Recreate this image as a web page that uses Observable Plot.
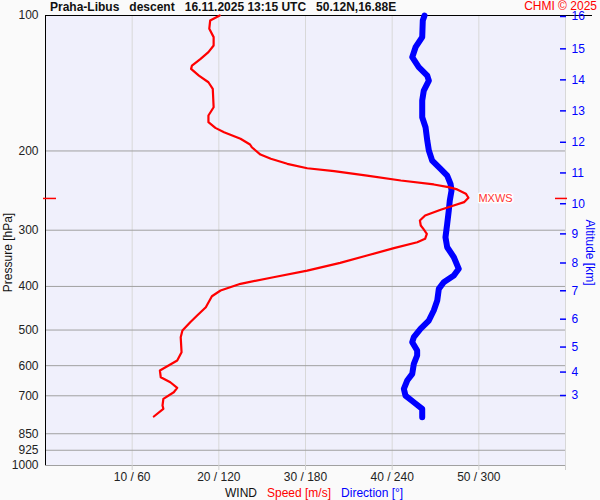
<!DOCTYPE html>
<html><head><meta charset="utf-8">
<script src="https://cdn.jsdelivr.net/npm/d3@7"></script>
<script src="https://cdn.jsdelivr.net/npm/@observablehq/plot@0.6"></script>
<style>
body{margin:0;background:#fafafa;font-family:"Liberation Sans",Arial,sans-serif;}
#wrap{position:relative;width:600px;height:500px;overflow:hidden}
#chart{position:absolute;left:0;top:0}
#title{position:absolute;left:50px;top:0;font-weight:bold;font-size:12px;line-height:14px;white-space:pre;color:#111}
#credit{position:absolute;right:3px;top:0;font-size:12px;line-height:12px;color:#f00}
#caption{position:absolute;left:225px;top:486px;font-size:12px;line-height:14px;white-space:pre;color:#111}
</style></head>
<body>
<div id="wrap">
<div id="chart"></div>
<div id="title">Praha-Libus   descent   16.11.2025 13:15 UTC   50.12N,16.88E</div>
<div id="credit">CHMI © 2025</div>
<div id="caption">WIND   <span style="color:#f00">Speed [m/s]</span>   <span style="color:#00f">Direction [°]</span></div>
</div>
<script>
// Axis ticks
const pressureTicks = [100, 200, 300, 400, 500, 600, 700, 850, 925, 1000];
const windTicks = [10, 20, 30, 40, 50, 60];
const altKm = [3, 4, 5, 6, 7, 8, 9, 10, 11, 12, 13, 14, 15, 16];
const altP = [699, 620, 545.5, 473, 409, 354.8, 305.7, 262, 223.8, 191.3, 162.9, 139, 118.6, 100.5];

// Wind speed profile [m/s] vs pressure [hPa]
const speedP = [100, 102.6, 107.0, 111.7, 116.6, 120.6, 124.8, 129.2, 131.4, 136.0, 140.7, 145.5, 159.9, 166.8, 172.6, 177.7, 181.7, 187.9, 193.5, 196.2, 203.7, 208.2, 213.6, 218.5, 221.8, 226.8, 232.6, 237.4, 240.7, 243.5, 248.9, 254.1, 259.9, 264.4, 270.2, 278.3, 285.5, 292.9, 297.9, 305.6, 313.5, 319.0, 328.9, 341.5, 354.5, 368.8, 381.6, 394.7, 408.5, 420.6, 444.9, 464.2, 480.4, 501.2, 518.6, 560.1, 584.5, 599.6, 615.1, 636.6, 653.1, 672.1, 687.5, 711.1, 735.8, 748.2, 778.3];
const speedMs = [20.1, 19.0, 18.9, 19.4, 19.4, 18.8, 17.9, 16.9, 16.8, 17.7, 18.8, 19.3, 19.4, 18.8, 18.8, 19.6, 20.6, 22.5, 23.6, 23.8, 24.8, 26.0, 27.9, 30.2, 33.3, 37.1, 41.0, 44.8, 46.5, 47.5, 48.5, 48.8, 48.3, 47.1, 45.6, 43.8, 43.2, 43.3, 43.6, 44.0, 43.8, 42.9, 40.2, 37.1, 34.0, 30.2, 26.3, 22.5, 20.2, 19.2, 18.5, 17.5, 16.7, 15.8, 15.6, 15.7, 15.2, 14.2, 13.2, 13.3, 14.4, 15.2, 14.8, 13.6, 13.5, 13.6, 12.5];

// Wind direction profile [deg] vs pressure [hPa]
const dirP = [100, 102.6, 111.7, 117.6, 123.8, 130.3, 136.0, 139.5, 146.8, 154.5, 168.3, 177.1, 189.6, 199.5, 210.1, 219.2, 226.8, 236.6, 244.8, 257.7, 271.3, 290.4, 311.0, 327.3, 344.5, 365.5, 378.3, 391.4, 405.0, 430.0, 452.5, 476.3, 497.0, 518.6, 532.1, 555.3, 569.6, 594.3, 625.7, 647.5, 675.6, 699.1, 723.5, 748.2, 781.2];
const dirDeg = [262.4, 261.2, 260.8, 256.2, 253.9, 258.4, 264.3, 265.4, 261.9, 260.8, 260.8, 263.1, 264.3, 265.4, 267.7, 273.5, 278.1, 280.4, 281.1, 279.9, 279.2, 278.1, 276.9, 278.1, 282.7, 286.1, 282.7, 275.7, 272.3, 271.2, 268.8, 265.4, 259.6, 255.0, 253.9, 257.3, 257.3, 255.0, 253.9, 250.4, 248.1, 249.2, 255.0, 260.8, 260.8];

// Maximum wind
const mxwsP = [255];
const mxwsSpeed = [48.8];
const mxwsLabel = ["MXWS"];

const altTable = altKm.map((k, i) => ({km: String(k), p: altP[i]}));
const speedTable = speedP.map((p, i) => ({p, s: speedMs[i]}));
const dirTable = dirP.map((p, i) => ({p, deg: dirDeg[i]}));
const mxTable = mxwsP.map((p, i) => ({p, s: mxwsSpeed[i], label: mxwsLabel[i]}));

const chart = Plot.plot({
  width: 600, height: 500,
  marginTop: 15, marginBottom: 35, marginLeft: 45, marginRight: 35,
  style: {background: "transparent", fontFamily: "Liberation Sans, Arial, sans-serif", fontSize: "12px", overflow: "visible"},
  x: {domain: [0, 60]},
  y: {type: "log", domain: [100, 1000], reverse: true},
  marks: [
    Plot.frame({fill: "#f0f0fc", stroke: "none"}),
    Plot.gridX(windTicks, {stroke: "#d8d8d8", strokeOpacity: 1}),
    Plot.gridY(pressureTicks, {stroke: "#a0a0a0", strokeOpacity: 1}),
    Plot.axisX(windTicks, {tickSize: 5, tickPadding: 2, stroke: "#cfcfcf", fill: "#222", label: null,
      tickFormat: d => d === 60 ? "" : `${d} / ${d * 6}`}),
    Plot.axisY(pressureTicks, {tickSize: 0, tickPadding: 7, fill: "#222", label: null, tickFormat: d => String(d)}),
    Plot.ruleX([0], {stroke: "black"}),
    Plot.ruleY([100], {stroke: "black", insetRight: -27}),
    Plot.tickY(altTable, {y: "p", stroke: "blue", strokeWidth: 1.5, insetLeft: 515, insetRight: -1}),
    Plot.text(altTable, {y: "p", text: "km", frameAnchor: "right", textAnchor: "start", dx: 6, fill: "blue", fontSize: 12}),
    Plot.text(["Pressure [hPa]"], {frameAnchor: "left", textAnchor: "middle", rotate: -90, dx: -37, dy: 12, fill: "#111", fontSize: 12}),
    Plot.text(["Altitude [km]"], {frameAnchor: "right", textAnchor: "middle", rotate: 90, dx: 24, dy: 12, fill: "blue", fontSize: 12}),
    Plot.line(dirTable, {x: d => d.deg / 6, y: "p", stroke: "blue", strokeWidth: 6, strokeLinecap: "round", strokeLinejoin: "round"}),
    Plot.line(speedTable, {x: "s", y: "p", stroke: "red", strokeWidth: 2.2}),
    Plot.tickY(mxTable, {y: "p", stroke: "red", strokeWidth: 1.5, insetLeft: -2, insetRight: 509}),
    Plot.tickY(mxTable, {y: "p", stroke: "red", strokeWidth: 1.5, insetLeft: 510, insetRight: -2}),
    Plot.text(mxTable, {x: "s", y: "p", text: "label", dx: 10, textAnchor: "start", fill: "#f33", stroke: "#fff", strokeWidth: 3, fontSize: 11})
  ]
});
document.getElementById("chart").appendChild(chart);
</script>
</body></html>
